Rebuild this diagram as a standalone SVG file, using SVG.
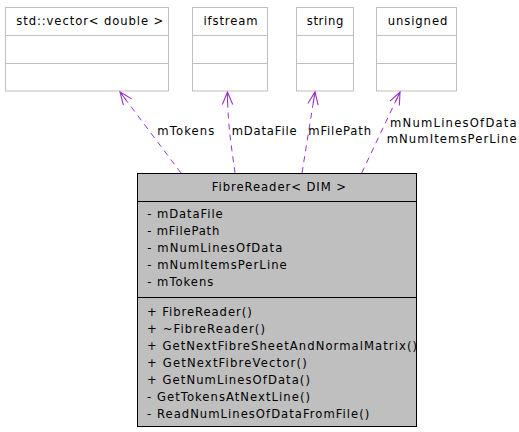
<svg xmlns="http://www.w3.org/2000/svg" width="519" height="432" viewBox="0 0 519 432">
<style>
text{font-family:"DejaVu Sans","Liberation Sans",sans-serif;font-size:11.6px;fill:#000}
.ext rect{fill:#fff;stroke:#bfbfbf;stroke-width:1}
.ext line{stroke:#bfbfbf;stroke-width:1}
.main rect{fill:#bfbfbf;stroke:#000;stroke-width:1}
.main line{stroke:#000;stroke-width:1}
.edge{fill:none;stroke:#9a32cd;stroke-width:1;stroke-dasharray:6,5}
</style>
<defs>
<marker id="open" markerUnits="userSpaceOnUse" viewBox="-14 -7 15 14" markerWidth="15" markerHeight="14" refX="0" refY="0" orient="auto">
<path d="M-12.5,-5.2 L0,0 L-12.5,5.2 M-11,0 L0,0" fill="none" stroke="#9a32cd" stroke-width="1.1"/>
</marker>
</defs>
<rect width="519" height="432" fill="#fff"/>
<g id="node-vector" class="ext">
<rect x="5.5" y="7.5" width="163" height="83.5"/>
<line x1="5.5" y1="35.5" x2="168.5" y2="35.5"/>
<line x1="5.5" y1="63.5" x2="168.5" y2="63.5"/>
<text x="16.3" y="25" textLength="147">std::vector&lt; double &gt;</text>
</g>
<g id="node-ifstream" class="ext">
<rect x="192.5" y="7.5" width="75" height="83.5"/>
<line x1="192.5" y1="35.5" x2="267.5" y2="35.5"/>
<line x1="192.5" y1="63.5" x2="267.5" y2="63.5"/>
<text x="203.5" y="25" textLength="54">ifstream</text>
</g>
<g id="node-string" class="ext">
<rect x="296.5" y="7.5" width="57" height="83.5"/>
<line x1="296.5" y1="35.5" x2="353.5" y2="35.5"/>
<line x1="296.5" y1="63.5" x2="353.5" y2="63.5"/>
<text x="306.7" y="25" textLength="36.6">string</text>
</g>
<g id="node-unsigned" class="ext">
<rect x="376.5" y="7.5" width="80" height="83.5"/>
<line x1="376.5" y1="35.5" x2="456.5" y2="35.5"/>
<line x1="376.5" y1="63.5" x2="456.5" y2="63.5"/>
<text x="387.7" y="25" textLength="59.6">unsigned</text>
</g>
<g id="node-fibrereader" class="main">
<rect x="137.5" y="173.5" width="279" height="253"/>
<line x1="137.5" y1="201.5" x2="416.5" y2="201.5"/>
<line x1="137.5" y1="297.5" x2="416.5" y2="297.5"/>
<text x="211.7" y="191" textLength="134.3">FibreReader&lt; DIM &gt;</text>
<text x="147.3" y="217.7" textLength="75.4">- mDataFile</text>
<text x="147.3" y="234.8" textLength="72">- mFilePath</text>
<text x="147.3" y="251.9" textLength="135">- mNumLinesOfData</text>
<text x="147.3" y="269" textLength="139.4">- mNumItemsPerLine</text>
<text x="147.3" y="286.1" textLength="66">- mTokens</text>
<text x="147" y="315.5" textLength="104.7">+ FibreReader()</text>
<text x="147" y="332.5" textLength="118">+ ~FibreReader()</text>
<text x="147" y="349.5" textLength="270">+ GetNextFibreSheetAndNormalMatrix()</text>
<text x="147" y="366.5" textLength="159.7">+ GetNextFibreVector()</text>
<text x="147" y="383.5" textLength="163">+ GetNumLinesOfData()</text>
<text x="147" y="400.5" textLength="163">- GetTokensAtNextLine()</text>
<text x="147" y="417.5" textLength="222.3">- ReadNumLinesOfDataFromFile()</text>
</g>
<g id="connectors">
<path class="edge" d="M181,173 L120,92" marker-end="url(#open)"/>
<path class="edge" d="M235,173 C232,150 227.5,125 227.5,92" marker-end="url(#open)"/>
<path class="edge" d="M302,173 L315,92" marker-end="url(#open)"/>
<path class="edge" d="M361.7,173 L400,92" marker-end="url(#open)"/>
<text x="157.3" y="134.5" textLength="57">mTokens</text>
<text x="231.7" y="134.5" textLength="65">mDataFile</text>
<text x="308.3" y="134.5" textLength="62.7">mFilePath</text>
<text x="390" y="127" textLength="126.7">mNumLinesOfData</text>
<text x="386.7" y="142.5" textLength="130">mNumItemsPerLine</text>
</g>
</svg>
